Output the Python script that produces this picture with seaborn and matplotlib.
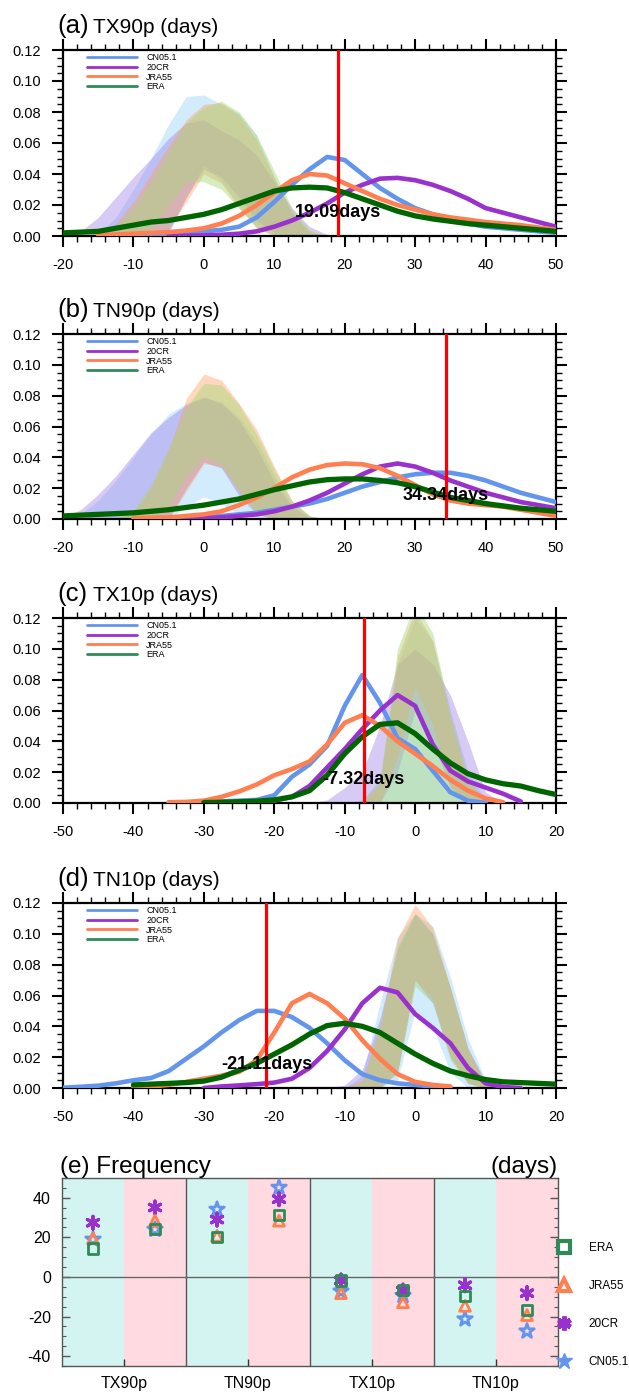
import numpy as np
import pandas as pd
import matplotlib
matplotlib.use("Agg")
import matplotlib.pyplot as plt
import seaborn as sns
from matplotlib.lines import Line2D
from matplotlib.ticker import MultipleLocator, FormatStrFormatter

N = None
# ---------------- data ----------------
NAMES = ["CN05.1", "20CR", "JRA55", "ERA"]

# panel (a) TX90p
A_X = [-20, -17.5, -15, -12.5, -10, -7.5, -5, -2.5, 0, 2.5, 5, 7.5, 10, 12.5, 15,
       17.5, 20, 22.5, 25, 27.5, 30, 32.5, 35, 37.5, 40, 42.5, 45, 47.5, 50]
A_CN05 = [N, N, N, N, 0.0005, 0.001, 0.0015, 0.002, 0.003, 0.004, 0.006, 0.012, 0.022, 0.033, 0.043,
          0.051, 0.049, 0.040, 0.031, 0.024, 0.018, 0.014, 0.011, 0.008, 0.006, 0.005, 0.004, 0.003, 0.002]
A_20CR = [N, N, N, N, N, N, 0.0, 0.0002, 0.0004, 0.0008, 0.0015, 0.003, 0.006, 0.010, 0.015,
          0.021, 0.028, 0.033, 0.037, 0.0375, 0.036, 0.033, 0.029, 0.024, 0.018, 0.015, 0.012, 0.009, 0.006]
A_JRA55 = [N, N, 0.0005, 0.001, 0.0015, 0.002, 0.0025, 0.0035, 0.005, 0.008, 0.013, 0.020, 0.028, 0.036, 0.040,
           0.039, 0.034, 0.029, 0.024, 0.020, 0.017, 0.014, 0.012, 0.0105, 0.009, 0.008, 0.007, 0.0055, 0.004]
A_ERA = [0.002, 0.0025, 0.003, 0.005, 0.007, 0.009, 0.010, 0.012, 0.014, 0.017, 0.021, 0.025, 0.029, 0.031, 0.0315,
         0.031, 0.028, 0.024, 0.020, 0.016, 0.013, 0.011, 0.0095, 0.008, 0.007, 0.006, 0.005, 0.004, 0.003]

# panel (b) TN90p
B_X = A_X
B_CN05 = [N, N, N, N, N, N, 0.0, 0.0005, 0.001, 0.002, 0.003, 0.004, 0.006, 0.008, 0.010,
          0.013, 0.017, 0.021, 0.024, 0.027, 0.029, 0.030, 0.030, 0.028, 0.025, 0.021, 0.017, 0.014, 0.011]
B_20CR = [N, N, N, N, N, N, 0.0, 0.0002, 0.0005, 0.001, 0.002, 0.003, 0.005, 0.008, 0.012,
          0.017, 0.023, 0.029, 0.034, 0.036, 0.034, 0.030, 0.025, 0.021, 0.017, 0.014, 0.011, 0.009, 0.007]
B_JRA55 = [N, N, N, N, 0.0005, 0.0008, 0.001, 0.002, 0.003, 0.005, 0.009, 0.014, 0.020, 0.027, 0.032,
           0.035, 0.036, 0.0355, 0.033, 0.028, 0.022, 0.016, 0.012, 0.010, 0.009, 0.008, 0.006, 0.004, 0.002]
B_ERA = [0.002, 0.0025, 0.003, 0.0035, 0.004, 0.005, 0.006, 0.0075, 0.009, 0.011, 0.013, 0.016, 0.019, 0.0215, 0.024,
         0.0255, 0.026, 0.026, 0.025, 0.0235, 0.021, 0.0175, 0.014, 0.012, 0.010, 0.0085, 0.007, 0.006, 0.005]

# panel (c) TX10p
C_X = [-50, -47.5, -45, -42.5, -40, -37.5, -35, -32.5, -30, -27.5, -25, -22.5, -20, -17.5, -15,
       -12.5, -10, -7.5, -5, -2.5, 0, 2.5, 5, 7.5, 10, 12.5, 15, 17.5, 20]
C_CN05 = [N, N, N, N, N, N, 0.0, 0.0003, 0.0005, 0.001, 0.0015, 0.002, 0.005, 0.017, 0.025,
          0.037, 0.063, 0.083, 0.065, 0.042, 0.035, 0.021, 0.007, 0.0015, 0.0, N, N, N, N]
C_20CR = [N, N, N, N, N, N, N, N, 0.0, 0.0003, 0.0006, 0.001, 0.0015, 0.004, 0.011,
          0.023, 0.035, 0.048, 0.060, 0.070, 0.063, 0.038, 0.021, 0.014, 0.010, 0.006, 0.001, N, N]
C_JRA55 = [N, N, N, N, N, N, 0.0005, 0.0007, 0.0015, 0.004, 0.0075, 0.012, 0.018, 0.022, 0.027,
           0.038, 0.052, 0.057, 0.050, 0.040, 0.032, 0.024, 0.015, 0.008, 0.003, 0.0005, N, N, N]
C_ERA = [N, N, N, N, N, N, N, N, 0.0003, 0.0005, 0.0008, 0.0012, 0.002, 0.004, 0.008,
         0.018, 0.032, 0.043, 0.051, 0.052, 0.045, 0.035, 0.026, 0.019, 0.015, 0.0125, 0.011, 0.008, 0.0055]

# panel (d) TN10p
D_X = C_X
D_CN05 = [0.0002, 0.0008, 0.0015, 0.003, 0.005, 0.0065, 0.011, 0.019, 0.027, 0.036, 0.044, 0.050, 0.050, 0.046, 0.039,
          0.029, 0.018, 0.009, 0.005, 0.003, 0.002, 0.001, 0.0005, N, N, N, N, N, N]
D_20CR = [N, N, N, N, N, N, N, N, 0.0, 0.001, 0.0017, 0.0025, 0.0035, 0.006, 0.013,
          0.024, 0.038, 0.055, 0.065, 0.062, 0.048, 0.039, 0.029, 0.013, 0.003, 0.0007, 0.0, N, N]
D_JRA55 = [N, N, N, N, 0.0005, 0.001, 0.002, 0.004, 0.006, 0.008, 0.0105, 0.018, 0.036, 0.055, 0.061,
           0.055, 0.045, 0.031, 0.019, 0.009, 0.004, 0.002, 0.001, N, N, N, N, N, N]
D_ERA = [N, N, N, N, 0.002, 0.0025, 0.003, 0.0035, 0.0045, 0.007, 0.0115, 0.016, 0.022, 0.028, 0.035,
         0.0405, 0.042, 0.040, 0.036, 0.029, 0.022, 0.016, 0.011, 0.008, 0.0055, 0.004, 0.0035, 0.003, 0.0025]

# shaded envelopes (upper / lower)
AB_BX = [-20, -17.5, -15, -12.5, -10, -7.5, -5, -2.5, 0, 2.5, 5, 7.5, 10, 12.5, 15, 17.5, 20]
A_UP_CN05 = [0, 0, 0.001, 0.012, 0.030, 0.050, 0.072, 0.090, 0.091, 0.085, 0.079, 0.065, 0.038, 0.015, 0.002, 0, 0]
A_LO_CN05 = [0, 0, 0, 0, 0, 0, 0.003, 0.025, 0.046, 0.035, 0.020, 0.005, 0.001, 0, 0, 0, 0]
A_UP_20CR = [0, 0.003, 0.012, 0.025, 0.038, 0.050, 0.063, 0.073, 0.075, 0.068, 0.062, 0.052, 0.035, 0.018, 0.006, 0.001, 0]
A_LO_20CR = [0, 0, 0, 0, 0, 0, 0.002, 0.025, 0.043, 0.038, 0.025, 0.010, 0.002, 0, 0, 0, 0]
A_UP_JRA55 = [0, 0, 0, 0.008, 0.022, 0.040, 0.058, 0.075, 0.085, 0.086, 0.078, 0.062, 0.038, 0.015, 0.003, 0, 0]
A_LO_JRA55 = [0, 0, 0, 0, 0, 0, 0.005, 0.022, 0.040, 0.034, 0.018, 0.005, 0, 0, 0, 0, 0]
A_UP_ERA = [0, 0, 0, 0.006, 0.018, 0.035, 0.055, 0.073, 0.083, 0.087, 0.080, 0.065, 0.042, 0.018, 0.004, 0, 0]
A_LO_ERA = [0, 0, 0, 0, 0, 0.005, 0.020, 0.035, 0.035, 0.030, 0.018, 0.006, 0, 0, 0, 0, 0]

B_UP_CN05 = [0, 0.003, 0.012, 0.025, 0.040, 0.055, 0.068, 0.075, 0.079, 0.076, 0.066, 0.050, 0.028, 0.010, 0.002, 0, 0]
B_LO_CN05 = [0, 0, 0, 0, 0, 0, 0, 0.008, 0.0145, 0.010, 0.003, 0, 0, 0, 0, 0, 0]
B_UP_20CR = [0.001, 0.006, 0.016, 0.028, 0.042, 0.056, 0.066, 0.074, 0.079, 0.075, 0.064, 0.046, 0.024, 0.008, 0.001, 0, 0]
B_LO_20CR = [0, 0, 0, 0, 0, 0, 0, 0.020, 0.037, 0.033, 0.015, 0.003, 0, 0, 0, 0, 0]
B_UP_JRA55 = [0, 0, 0, 0, 0.004, 0.020, 0.045, 0.078, 0.094, 0.090, 0.075, 0.058, 0.034, 0.012, 0.002, 0, 0]
B_LO_JRA55 = [0, 0, 0, 0, 0, 0, 0, 0.018, 0.036, 0.034, 0.018, 0.004, 0, 0, 0, 0, 0]
B_UP_ERA = [0, 0, 0, 0, 0.006, 0.022, 0.046, 0.072, 0.088, 0.087, 0.074, 0.055, 0.032, 0.012, 0.002, 0, 0]
B_LO_ERA = [0, 0, 0, 0, 0, 0, 0.008, 0.028, 0.041, 0.035, 0.018, 0.004, 0, 0, 0, 0, 0]

CD_BX = [-15, -12.5, -10, -7.5, -5, -2.5, 0, 2.5, 5, 7.5, 10, 12.5, 15]
C_UP_CN05 = [0, 0, 0, 0.002, 0.015, 0.090, 0.120, 0.105, 0.060, 0.020, 0.002, 0, 0]
C_LO_CN05 = [0, 0, 0, 0, 0, 0, 0, 0, 0, 0, 0, 0, 0]
C_UP_20CR = [0, 0.002, 0.010, 0.020, 0.050, 0.090, 0.100, 0.090, 0.070, 0.040, 0.007, 0, 0]
C_LO_20CR = [0, 0, 0, 0, 0, 0.020, 0.060, 0.040, 0.010, 0, 0, 0, 0]
C_UP_JRA55 = [0, 0, 0, 0.001, 0.012, 0.095, 0.125, 0.105, 0.055, 0.015, 0.001, 0, 0]
C_LO_JRA55 = [0, 0, 0, 0, 0, 0.030, 0.075, 0.050, 0.010, 0, 0, 0, 0]
C_UP_ERA = [0, 0, 0, 0.001, 0.014, 0.100, 0.130, 0.110, 0.058, 0.016, 0.001, 0, 0]
C_LO_ERA = [0, 0, 0, 0, 0, 0, 0, 0, 0, 0, 0, 0, 0]

D_UP_CN05 = [0, 0, 0, 0.008, 0.055, 0.098, 0.113, 0.105, 0.072, 0.032, 0.005, 0, 0]
D_LO_CN05 = [0, 0, 0, 0, 0, 0.005, 0.050, 0.040, 0.010, 0, 0, 0, 0]
D_UP_20CR = [0, 0, 0.002, 0.012, 0.045, 0.090, 0.113, 0.100, 0.065, 0.026, 0.004, 0, 0]
D_LO_20CR = [0, 0, 0, 0, 0, 0.010, 0.070, 0.055, 0.020, 0.003, 0, 0, 0]
D_UP_JRA55 = [0, 0, 0, 0.005, 0.040, 0.097, 0.119, 0.104, 0.065, 0.025, 0.003, 0, 0]
D_LO_JRA55 = [0, 0, 0, 0, 0, 0.012, 0.070, 0.058, 0.020, 0.003, 0, 0, 0]
D_UP_ERA = [0, 0, 0, 0.004, 0.040, 0.092, 0.113, 0.100, 0.065, 0.025, 0.003, 0, 0]
D_LO_ERA = [0, 0, 0, 0, 0, 0.010, 0.066, 0.055, 0.018, 0.003, 0, 0, 0]

OBS = [19.09, 34.34, -7.32, -21.11]
PANEL_LABELS = ["(a)", "(b)", "(c)", "(d)"]
PANEL_TITLES = ["TX90p (days)", "TN90p (days)", "TX10p (days)", "TN10p (days)"]
Y_TICKS = [0.00, 0.02, 0.04, 0.06, 0.08, 0.10, 0.12]

# panel (e)
E_CATEGORIES = ["TX90p", "TN90p", "TX10p", "TN10p"]
E_ERA = [14.5, 24.2, 20.2, 31.3, -1.8, -6.7, -9.7, -16.6]
E_JRA55 = [19.5, 28.4, 20.8, 28.4, -8.2, -12.8, -14.6, -19.3]
E_20CR = [27.4, 35.1, 29.0, 39.3, -1.8, -6.9, -4.2, -8.2]
E_CN05 = [19.0, 24.0, 34.1, 45.2, -7.2, -9.4, -21.3, -27.4]

# ---------------- style ----------------
sns.set_style("ticks")
plt.rcParams["font.family"] = ["Liberation Sans", "DejaVu Sans"]
plt.rcParams["text.color"] = "black"
plt.rcParams["axes.labelcolor"] = "black"
plt.rcParams["xtick.color"] = "black"
plt.rcParams["ytick.color"] = "black"
plt.rcParams["axes.unicode_minus"] = False

LINE_COLORS = {"CN05.1": "#6495ed", "20CR": "#9932cc", "JRA55": "#ff7f50", "ERA": "#006400"}
LEG_COLORS = {"CN05.1": "#6495ed", "20CR": "#9932cc", "JRA55": "#ff7f50", "ERA": "#2e8b57"}
BAND_COLORS = {"CN05.1": "#8fd0fa", "20CR": "#9d7be8", "JRA55": "#ffa060", "ERA": "#a6d878"}
BAND_ALPHA = {"CN05.1": 0.40, "20CR": 0.40, "JRA55": 0.42, "ERA": 0.45}

W, H = 629, 1393
fig = plt.figure(figsize=(W / 100, H / 100), dpi=100)


def rect(l, r, t, b):
    return [l / W, 1 - b / H, (r - l) / W, (b - t) / H]


panels = [
    dict(box=(63, 556, 50, 236), x=A_X,
         lines=dict(zip(NAMES, [A_CN05, A_20CR, A_JRA55, A_ERA])),
         bx=AB_BX,
         up=dict(zip(NAMES, [A_UP_CN05, A_UP_20CR, A_UP_JRA55, A_UP_ERA])),
         lo=dict(zip(NAMES, [A_LO_CN05, A_LO_20CR, A_LO_JRA55, A_LO_ERA])),
         xlim=(-20, 50)),
    dict(box=(63, 556, 334, 519), x=B_X,
         lines=dict(zip(NAMES, [B_CN05, B_20CR, B_JRA55, B_ERA])),
         bx=AB_BX,
         up=dict(zip(NAMES, [B_UP_CN05, B_UP_20CR, B_UP_JRA55, B_UP_ERA])),
         lo=dict(zip(NAMES, [B_LO_CN05, B_LO_20CR, B_LO_JRA55, B_LO_ERA])),
         xlim=(-20, 50)),
    dict(box=(63, 556, 618, 803), x=C_X,
         lines=dict(zip(NAMES, [C_CN05, C_20CR, C_JRA55, C_ERA])),
         bx=CD_BX,
         up=dict(zip(NAMES, [C_UP_CN05, C_UP_20CR, C_UP_JRA55, C_UP_ERA])),
         lo=dict(zip(NAMES, [C_LO_CN05, C_LO_20CR, C_LO_JRA55, C_LO_ERA])),
         xlim=(-50, 20)),
    dict(box=(63, 556, 903, 1088), x=D_X,
         lines=dict(zip(NAMES, [D_CN05, D_20CR, D_JRA55, D_ERA])),
         bx=CD_BX,
         up=dict(zip(NAMES, [D_UP_CN05, D_UP_20CR, D_UP_JRA55, D_UP_ERA])),
         lo=dict(zip(NAMES, [D_LO_CN05, D_LO_20CR, D_LO_JRA55, D_LO_ERA])),
         xlim=(-50, 20)),
]

for i, p in enumerate(panels):
    ax = fig.add_axes(rect(*p["box"]))
    for name in NAMES:
        ax.fill_between(p["bx"], p["lo"][name], p["up"][name], color=BAND_COLORS[name],
                        alpha=BAND_ALPHA[name], lw=0, zorder=1)
    for name in NAMES:
        df = pd.DataFrame({"x": np.array(p["x"], dtype=float),
                           "y": np.array(p["lines"][name], dtype=float)}).dropna()
        sns.lineplot(data=df, x="x", y="y", ax=ax, color=LINE_COLORS[name],
                     lw=3.8 if name == "ERA" else 3.3, estimator=None, sort=False,
                     solid_capstyle="round", solid_joinstyle="round", legend=False, zorder=3)
    ax.axvline(OBS[i], color="red", lw=2.3, zorder=5)
    ax.text(OBS[i], 0.015, f"{OBS[i]:.2f}days", ha="center", va="center",
            fontsize=13, fontweight="bold", color="black", zorder=6)
    ax.set_xlim(*p["xlim"])
    ax.set_ylim(0, 0.12)
    ax.set_yticks(Y_TICKS)
    ax.yaxis.set_major_formatter(FormatStrFormatter("%.2f"))
    ax.xaxis.set_major_locator(MultipleLocator(10))
    ax.xaxis.set_minor_locator(MultipleLocator(2))
    ax.yaxis.set_minor_locator(MultipleLocator(0.005))
    ax.set_xlabel("")
    ax.set_ylabel("")
    ax.tick_params(which="both", direction="out", top=True, right=True, labelsize=10.5,
                   colors="black", labelcolor="black")
    ax.tick_params(which="major", length=8, width=1.5)
    ax.tick_params(axis="y", which="major", pad=8)
    ax.tick_params(axis="x", which="major", pad=8)
    ax.tick_params(which="minor", length=4, width=1.0)
    for s in ax.spines.values():
        s.set_linewidth(1.6)
        s.set_color("black")
    ax.text(-0.012, 1.091, PANEL_LABELS[i], transform=ax.transAxes, fontsize=18.5,
            ha="left", va="baseline", color="black")
    ax.text(0.061, 1.091, PANEL_TITLES[i], transform=ax.transAxes, fontsize=15,
            ha="left", va="baseline", color="black")
    handles = [Line2D([], [], color=LEG_COLORS[n], lw=2.0, solid_capstyle="round") for n in NAMES]
    leg = ax.legend(handles, NAMES, loc="upper left", bbox_to_anchor=(0.048, 0.985), frameon=False,
                    fontsize=6.5, handlelength=5.6, handletextpad=1.0, labelspacing=0.1,
                    borderpad=0, borderaxespad=0)
    for t in leg.get_texts():
        t.set_color("black")

# ---------------- panel (e) ----------------
axe = fig.add_axes(rect(62, 558, 1178, 1366))
n_pos = 2 * len(E_CATEGORIES)
for k in range(n_pos):
    axe.axvspan(k, k + 1, color="#d4f4f2" if k % 2 == 0 else "#ffdae0", lw=0, zorder=0)
for k in range(2, n_pos, 2):
    axe.axvline(k, color="#555555", lw=1.0, zorder=1)
axe.axhline(0, color="#666666", lw=1.0, zorder=1)

positions = np.arange(n_pos) + 0.5
E_SERIES = {"CN05.1": E_CN05, "20CR": E_20CR, "JRA55": E_JRA55, "ERA": E_ERA}
E_MARKERS = {"CN05.1": "*", "20CR": (6, 2, 0), "JRA55": "^", "ERA": "s"}
E_SIZES = {"CN05.1": 120, "20CR": 85, "JRA55": 60, "ERA": 58}
for name in NAMES:
    df = pd.DataFrame({"pos": positions, "val": E_SERIES[name]})
    sns.scatterplot(data=df, x="pos", y="val", ax=axe, marker=E_MARKERS[name],
                    s=E_SIZES[name], color=LEG_COLORS[name], legend=False, zorder=3)
    coll = axe.collections[-1]
    c = LEG_COLORS[name]
    coll.set_facecolor("none")
    coll.set_edgecolor(c)
    coll.set_linewidth(2.0 if name != "20CR" else 2.3)

axe.set_xlim(0, n_pos)
axe.set_ylim(-45, 50)
axe.set_xticks(np.arange(1, n_pos, 2))
axe.set_xticklabels(E_CATEGORIES)
axe.yaxis.set_major_locator(MultipleLocator(20))
axe.yaxis.set_minor_locator(MultipleLocator(5))
axe.set_xlabel("")
axe.set_ylabel("")
axe.tick_params(axis="y", which="both", direction="in", left=True, right=True, labelsize=11.5, pad=8)
axe.tick_params(axis="y", which="major", length=6, width=1.0, colors="#555555", labelcolor="black")
axe.tick_params(axis="y", which="minor", length=3, width=0.8, colors="#555555")
axe.tick_params(axis="x", which="major", direction="in", length=5, width=1.0, colors="#333333",
                labelcolor="black", labelsize=11.5, pad=7, top=False)
for s in axe.spines.values():
    s.set_linewidth(1.0)
    s.set_color("#555555")
axe.text(-0.005, 1.027, "(e) Frequency", transform=axe.transAxes, fontsize=17.5,
         ha="left", va="baseline", color="black")
axe.text(1.0, 1.027, "(days)", transform=axe.transAxes, fontsize=17.5,
         ha="right", va="baseline", color="black")

leg_order = ["ERA", "JRA55", "20CR", "CN05.1"]
leg_mk = {"ERA": dict(marker="s", ms=8, mew=3.0, mfc="white"),
          "JRA55": dict(marker="^", ms=9, mew=3.0, mfc="white"),
          "20CR": dict(marker=(6, 2, 0), ms=10, mew=3.4),
          "CN05.1": dict(marker="*", ms=12, mew=1.0)}
e_handles = [Line2D([], [], ls="none", color=LEG_COLORS[n], mec=LEG_COLORS[n], **leg_mk[n]) for n in leg_order]
eleg = axe.legend(e_handles, leg_order, loc="upper left", bbox_to_anchor=(1.0, 0.66), frameon=False,
                  fontsize=8.5, handlelength=1.0, handletextpad=1.6, labelspacing=2.2,
                  borderpad=0, borderaxespad=0)
for t in eleg.get_texts():
    t.set_color("black")

fig.savefig("out.png", dpi=100)
